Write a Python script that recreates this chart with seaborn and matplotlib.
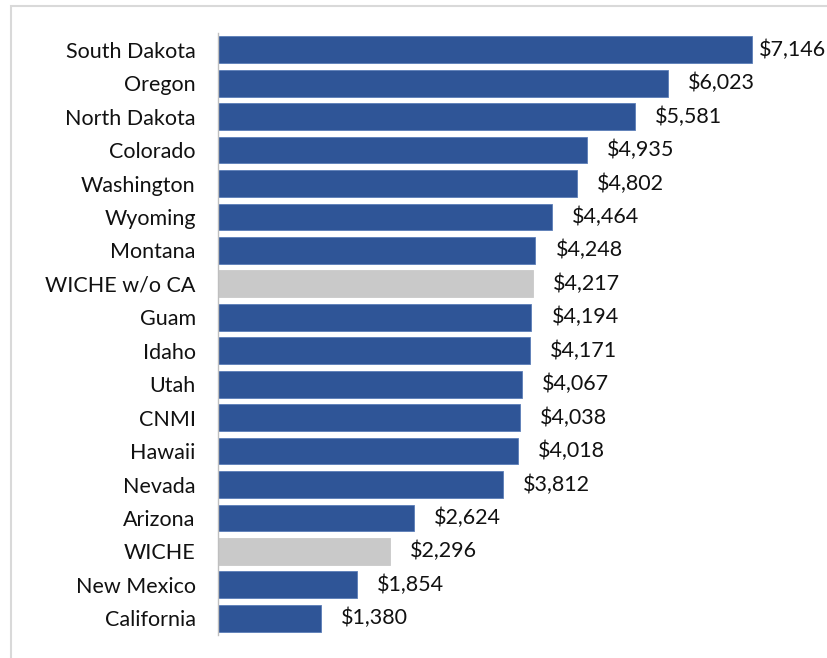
import matplotlib
matplotlib.use("Agg")
import matplotlib.pyplot as plt
import seaborn as sns
import pandas as pd
from matplotlib.patches import Rectangle

states = ["South Dakota", "Oregon", "North Dakota", "Colorado", "Washington", "Wyoming",
          "Montana", "WICHE w/o CA", "Guam", "Idaho", "Utah", "CNMI", "Hawaii", "Nevada",
          "Arizona", "WICHE", "New Mexico", "California"]
values = [7146, 6023, 5581, 4935, 4802, 4464, 4248, 4217, 4194, 4171, 4067, 4038, 4018,
          3812, 2624, 2296, 1854, 1380]
labels = ["$7,146", "$6,023", "$5,581", "$4,935", "$4,802", "$4,464", "$4,248", "$4,217",
          "$4,194", "$4,171", "$4,067", "$4,038", "$4,018", "$3,812", "$2,624", "$2,296",
          "$1,854", "$1,380"]

BLUE = "#2F5597"
GRAY = "#C9C9C9"
palette = {s: (GRAY if s.startswith("WICHE") else BLUE) for s in states}

df = pd.DataFrame({"state": states, "value": values})

sns.set_theme(style="white")
plt.rcParams["font.family"] = ["Lato", "DejaVu Sans"]

FS = 15.5
W, H = 828, 658
fig = plt.figure(figsize=(W / 100, H / 100), dpi=100)
ax = fig.add_axes([218 / W, 1 - 635 / H, (W - 218) / W, (635 - 33) / H])

sns.barplot(data=df, x="value", y="state", hue="state", palette=palette, legend=False,
            width=0.8, saturation=1, ax=ax, order=states)

for p in ax.patches:
    fc = p.get_facecolor()
    if fc[0] < 0.5:
        p.set_edgecolor("#5B7DB8")
    else:
        p.set_edgecolor(fc)
    p.set_linewidth(0.6)

xmax = 7146 * (W - 218) / (752 - 218)
ax.set_xlim(0, xmax)
ax.set_ylim(len(states) - 0.5, -0.5)

fig.canvas.draw()
renderer = fig.canvas.get_renderer()
for i, (v, lab) in enumerate(zip(values, labels)):
    t = ax.annotate(lab, xy=(v, i), xytext=(14.5, 0), textcoords="offset points",
                    va="center", ha="left", fontsize=FS, color="#111111")
    bb = t.get_window_extent(renderer)
    limit = W - 3
    if bb.x1 > limit:
        shift_pt = (bb.x1 - limit) * 72 / 100
        t.set_position((max(14.5 - shift_pt, 5), 0))

ax.set_xlabel("")
ax.set_ylabel("")
ax.set_xticks([])
ax.tick_params(axis="y", length=0, pad=16, labelsize=FS, labelcolor="#111111")
for s in ["top", "right", "bottom"]:
    ax.spines[s].set_visible(False)
ax.spines["left"].set_color("#BFBFBF")
ax.spines["left"].set_linewidth(1.0)

fig.patches.append(Rectangle((11 / W, -0.05), 1.2, 1 - 6 / H + 0.05, transform=fig.transFigure,
                             fill=False, edgecolor="#D9D9D9", linewidth=1.5, zorder=0))

fig.savefig("out.png", dpi=100)
